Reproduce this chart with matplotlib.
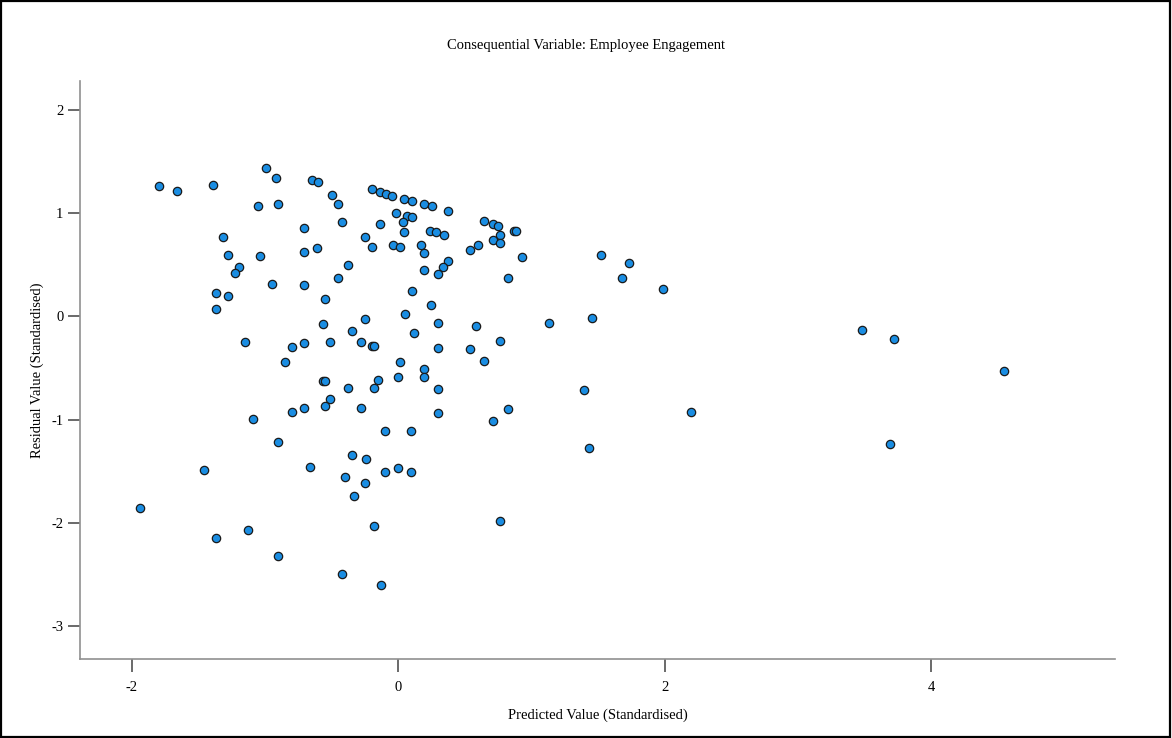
import matplotlib.pyplot as plt
from matplotlib.patches import Rectangle

# predicted (standardised) vs residual (standardised)
pred = [-1.80, -1.66, -1.39, -0.99, -0.92, -1.05, -0.90, -1.32, -1.28, -1.04,
        -1.20, -1.23, -0.95, -1.37, -1.28, -1.37,
        -1.15, -0.80, -0.85, -1.09, -0.80, -0.90, -1.46,
        -1.94, -1.37, -1.13, -0.90, -0.66, -0.35, -0.245, -0.40, -0.25, -0.10,
        0.00, 0.095, -0.33, -0.185, -0.42, -0.13,
        -0.65, -0.60, -0.50, -0.45, -0.42, -0.71, -0.20, -0.135, -0.09, -0.05,
        0.04, 0.10, 0.195, 0.25, 0.37, -0.02, 0.065, 0.10, 0.035, -0.135,
        0.045, 0.24, 0.28, 0.34, -0.25, -0.20, -0.04, 0.01, 0.17, 0.19,
        0.37, 0.335, 0.295, 0.195, -0.71, -0.61, -0.375, -0.455, -0.71, -0.55,
        0.10, 0.245, 0.05, -0.565, -0.25, 0.295, -0.35, 0.115,
        -0.71, -0.51, -0.28, -0.20, -0.18, 0.30, 0.01, 0.19, 0.19, 0.00,
        -0.565, -0.55, -0.15, -0.185, -0.375, 0.30, -0.51, -0.55, -0.71, -0.28,
        0.30, -0.10, 0.095,
        0.64, 0.71, 0.75, 0.87, 0.885, 0.765, 0.71, 0.765, 0.60, 0.535,
        0.93, 0.82, 1.52, 0.585, 1.13, 1.45, 0.765,
        0.535, 0.64, 0.825, 0.71, 1.39, 1.43, 0.765,
        1.73, 1.68, 1.99, 2.20,
        3.48, 3.72, 4.55, 3.69]
resid = [1.26, 1.21, 1.27, 1.44, 1.34, 1.07, 1.09, 0.77, 0.59, 0.58,
         0.48, 0.42, 0.31, 0.23, 0.20, 0.07,
         -0.25, -0.30, -0.44, -0.99, -0.93, -1.22, -1.49,
         -1.86, -2.15, -2.07, -2.32, -1.46, -1.34, -1.38, -1.56, -1.61, -1.51,
         -1.47, -1.505, -1.74, -2.03, -2.50, -2.60,
         1.32, 1.30, 1.18, 1.085, 0.91, 0.86, 1.23, 1.20, 1.19, 1.17,
         1.14, 1.12, 1.085, 1.065, 1.02, 1.005, 0.975, 0.96, 0.91, 0.89,
         0.82, 0.83, 0.82, 0.79, 0.77, 0.675, 0.695, 0.675, 0.695, 0.61,
         0.54, 0.475, 0.41, 0.445, 0.62, 0.665, 0.50, 0.37, 0.30, 0.17,
         0.245, 0.11, 0.02, -0.07, -0.025, -0.065, -0.145, -0.16,
         -0.255, -0.25, -0.25, -0.285, -0.29, -0.305, -0.44, -0.51, -0.59, -0.59,
         -0.625, -0.63, -0.62, -0.69, -0.695, -0.70, -0.80, -0.87, -0.89, -0.89,
         -0.94, -1.11, -1.11,
         0.92, 0.89, 0.88, 0.83, 0.83, 0.79, 0.74, 0.715, 0.695, 0.64,
         0.575, 0.375, 0.59, -0.09, -0.06, -0.015, -0.235,
         -0.315, -0.43, -0.90, -1.015, -0.71, -1.28, -1.98,
         0.52, 0.375, 0.26, -0.93,
         -0.13, -0.22, -0.53, -1.24]

title = "Consequential Variable: Employee Engagement"
xlab = "Predicted Value (Standardised)"
ylab = "Residual Value (Standardised)"

plt.rcParams['font.family'] = ['Liberation Serif', 'DejaVu Serif']
plt.rcParams['axes.unicode_minus'] = False

fig = plt.figure(figsize=(11.72, 7.38), dpi=100)
ax = fig.add_axes([80/1172, 1-659/738, (1115-80)/1172, (659-81)/738])

ax.scatter(pred, resid, s=36, c='#1a8de2', edgecolors='#1a1a1a', linewidths=0.9, zorder=3)

ax.set_xlim(-2.39, 5.38)
ax.set_ylim(-3.32, 2.28)
ax.set_xticks([-2, 0, 2, 4])
ax.set_yticks([-3, -2, -1, 0, 1, 2])

for s in ['top', 'right']:
    ax.spines[s].set_visible(False)
for s in ['left', 'bottom']:
    ax.spines[s].set_color('#909090')
    ax.spines[s].set_linewidth(1.2)
ax.tick_params(direction='out', length=9, width=1.2, color='#505050', labelsize=10.5, pad=7)
ax.tick_params(axis='y', pad=3)

ax.set_xlabel(xlab, fontsize=10.5, labelpad=10)
ax.set_ylabel(ylab, fontsize=10.5, labelpad=5)
fig.text(0.5, 1-45/738, title, ha='center', va='center', fontsize=10.5)

# outer border
fig.patches.append(Rectangle((0.001, 0.001), 0.997, 0.997, transform=fig.transFigure,
                             fill=False, edgecolor='black', linewidth=1.6))

fig.savefig('out.png', dpi=100)
